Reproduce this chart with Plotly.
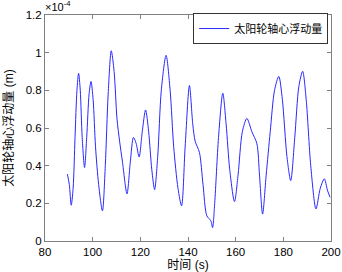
import plotly.graph_objects as go

# time (s)
time_s = [89.4, 90.2, 91.0, 91.8, 92.6, 93.4, 94.1, 94.8, 95.6, 96.6, 97.5, 98.5, 99.3,
          100.2, 101.2, 102.5, 104.1, 105.3, 106.5, 107.8, 109.0, 110.2, 111.3, 112.5,
          114.4, 115.8, 117.1, 118.2, 119.5, 120.8, 122.2, 123.5, 124.8, 126.0, 127.3,
          128.8, 130.8, 132.5, 134.0, 135.8, 137.3, 138.8, 140.6, 142.0, 143.0, 144.8,
          146.3, 147.9, 149.6, 150.3, 151.2, 152.8, 154.6, 156.0, 157.5, 159.5, 161.0,
          162.8, 164.7, 166.8, 168.9, 170.0, 171.3, 172.8, 174.5, 176.3, 178.1, 179.6,
          181.5, 183.1, 184.8, 186.5, 188.1, 189.6, 191.5, 193.7, 195.5, 197.2, 198.5, 199.6]
# floating displacement, in units of 1e-4 m
float_e4 = [0.355, 0.30, 0.19, 0.28, 0.55, 0.80, 0.89, 0.80, 0.55, 0.39, 0.55, 0.78, 0.847,
            0.75, 0.50, 0.30, 0.16, 0.40, 0.78, 1.01, 0.90, 0.65, 0.53, 0.42,
            0.25, 0.42, 0.55, 0.52, 0.446, 0.58, 0.696, 0.58, 0.38, 0.273, 0.45,
            0.80, 0.986, 0.80, 0.50, 0.28, 0.187, 0.50, 0.826, 0.62, 0.53, 0.47,
            0.30, 0.134, 0.107, 0.071, 0.20, 0.55, 0.785, 0.62, 0.38, 0.209, 0.35,
            0.58, 0.651, 0.58, 0.517, 0.35, 0.143, 0.35, 0.58, 0.80, 0.874, 0.75,
            0.45, 0.321, 0.55, 0.82, 0.901, 0.75, 0.40, 0.170, 0.28, 0.330, 0.27, 0.232]

x_ticks = [80, 100, 120, 140, 160, 180, 200]
y_ticks = [0, 0.2, 0.4, 0.6, 0.8, 1.0, 1.2]
y_tick_text = ["0", "0.2", "0.4", "0.6", "0.8", "1", "1.2"]

FONT = "Liberation Sans, Arial, Noto Sans CJK SC, sans-serif"

fig = go.Figure()
fig.add_trace(go.Scatter(
    x=time_s, y=float_e4, mode="lines", name="太阳轮轴心浮动量",
    line=dict(color="rgb(40,40,255)", width=1, shape="spline", smoothing=0.8),
))

axis_common = dict(
    showline=True, linecolor="#808080", linewidth=1, mirror="allticks",
    ticks="inside", ticklen=4, tickcolor="#808080", showgrid=False, zeroline=False,
    tickfont=dict(family=FONT, size=11.5, color="black"), automargin=False,
)

fig.update_layout(
    width=342, height=272,
    margin=dict(l=45, r=11, t=15, b=31),
    paper_bgcolor="white", plot_bgcolor="white",
    font=dict(family=FONT, color="black"),
    showlegend=True,
    legend=dict(
        x=0.99, y=0.94, xanchor="right", yanchor="middle",
        bgcolor="white", bordercolor="#333333", borderwidth=1,
        font=dict(family=FONT, size=11, color="black"),
        itemwidth=30, tracegroupgap=0,
    ),
    xaxis=dict(range=[80, 200], tickvals=x_ticks,
               title=dict(text="时间 (s)", font=dict(family=FONT, size=12), standoff=2),
               **axis_common),
    yaxis=dict(range=[0, 1.2], tickvals=y_ticks, ticktext=y_tick_text,
               title=dict(text="太阳轮轴心浮动量 (m)", font=dict(family=FONT, size=12), standoff=9),
               **axis_common),
    annotations=[dict(
        text="×10<sup>-4</sup>", xref="paper", yref="paper", x=0, y=1,
        xanchor="left", yanchor="bottom", showarrow=False,
        font=dict(family=FONT, size=11, color="black"), xshift=-2, yshift=0,
    )],
)

fig.write_html(
    "out.html",
    config={"displayModeBar": False},
    post_script="document.body.style.margin='0';document.body.style.overflow='hidden';",
)
